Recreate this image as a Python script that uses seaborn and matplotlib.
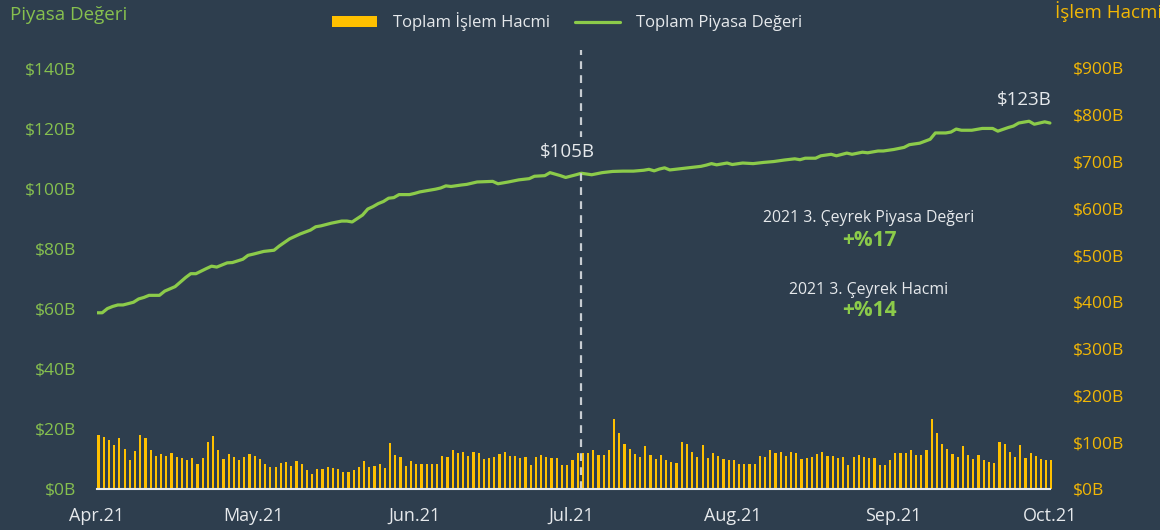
import numpy as np
import pandas as pd
import matplotlib
matplotlib.use("Agg")
import matplotlib.pyplot as plt
import seaborn as sns
from matplotlib.patches import Patch
from matplotlib.lines import Line2D

# ---------------- data ----------------
month_labels = ["Apr.21", "May.21", "Jun.21", "Jul.21", "Aug.21", "Sep.21", "Oct.21"]
month_start_day = [0, 30, 61, 91, 122, 153, 183]  # day offset from 2021-04-01

# daily total trading volume ($B), Apr 1 .. Oct 1
volume = [
    115, 112, 104, 95, 110, 86, 63, 82, 115, 108, 84, 71, 74, 71, 78, 69, 67, 63, 67, 53,
    67, 101, 114, 83, 65, 74, 69, 61, 68, 75,
    71, 64, 53, 46, 46, 56, 57, 50, 59, 53, 40, 32, 42, 42, 47, 44, 43, 37, 36, 40,
    46, 60, 46, 49, 54, 44, 99, 72, 68, 49, 60,
    53, 54, 54, 54, 53, 71, 69, 83, 77, 79, 71, 79, 78, 64, 67, 68, 75, 79, 71, 71,
    67, 68, 52, 68, 72, 69, 67, 67, 52, 52,
    61, 76, 78, 77, 84, 72, 72, 83, 149, 119, 96, 86, 74, 68, 92, 72, 64, 72, 63, 57,
    56, 101, 96, 79, 68, 93, 67, 78, 71, 64, 63,
    63, 54, 54, 54, 53, 71, 69, 83, 77, 79, 71, 79, 78, 64, 67, 68, 75, 79, 71, 71,
    67, 68, 52, 68, 72, 69, 67, 67, 52, 52, 61,
    77, 78, 77, 84, 72, 72, 83, 149, 119, 96, 86, 74, 68, 92, 72, 64, 72, 63, 57, 56,
    101, 96, 79, 68, 93, 67, 78, 71, 64, 63,
    63,
]

# total market value ($B), read at day offsets
mv_day = [0, 1, 2, 3, 4, 5, 7, 8, 9, 10, 12, 13, 15, 17, 18, 19, 21, 22, 23, 25, 26, 28, 29, 30,
          32, 34, 35, 37, 39, 41, 42, 43, 45, 47, 48, 49, 51, 52, 53, 54, 55, 56, 57, 58, 60,
          61, 62, 63, 65, 66, 67, 68, 70, 71, 73, 76, 77, 79, 81, 83, 84, 86, 87, 89, 90, 92,
          93, 95, 97, 99, 101, 103, 105, 106, 107, 108, 109, 110, 112, 114, 116, 117, 118, 119,
          121, 122, 124, 126, 128, 130, 132, 134, 135, 136, 138, 139, 141, 142, 144, 145, 147,
          148, 150, 151, 153, 155, 156, 158, 160, 161, 163, 164, 165, 166, 168, 170, 172, 173,
          175, 176, 177, 179, 180, 182, 183]
mv_value = [58.6, 58.6, 60.0, 60.7, 61.2, 61.2, 62.1, 63.2, 63.7, 64.4, 64.4, 65.8, 67.3, 70.3,
            71.6, 71.6, 73.3, 74.1, 73.8, 75.2, 75.3, 76.4, 77.7, 78.1, 79.0, 79.4, 80.8, 83.2,
            84.8, 86.1, 87.2, 87.5, 88.4, 89.1, 89.1, 88.8, 91.1, 93.1, 93.9, 94.9, 95.6, 96.7,
            96.9, 97.9, 97.9, 98.3, 98.8, 99.1, 99.7, 100.1, 100.8, 100.6, 101.1, 101.3, 102.1,
            102.3, 101.5, 102.1, 102.8, 103.2, 104.0, 104.2, 105.2, 104.2, 103.6, 104.5, 105.0,
            104.5, 105.2, 105.6, 105.7, 105.7, 106.0, 106.3, 105.8, 106.4, 106.8, 106.1, 106.5,
            106.9, 107.3, 107.7, 108.2, 107.8, 108.4, 107.9, 108.4, 108.2, 108.6, 108.9, 109.4,
            109.8, 109.5, 110.0, 110.0, 110.8, 111.3, 110.8, 111.7, 111.3, 112.0, 111.8, 112.4,
            112.4, 112.9, 113.6, 114.5, 115.0, 116.3, 118.4, 118.4, 118.7, 119.7, 119.3, 119.3,
            119.9, 119.9, 119.0, 120.2, 120.7, 121.7, 122.3, 121.3, 122.1, 121.7]

left_ticks = [0, 20, 40, 60, 80, 100, 120, 140]
right_ticks = [0, 100, 200, 300, 400, 500, 600, 700, 800, 900]

# ---------------- style ----------------
BG = "#2E3E4E"
GREEN_LINE = "#8CCB4A"
GREEN_TXT = "#86C04E"
YELLOW = "#FFC000"
YELLOW_TXT = "#F2B705"
WHITE = "#E6E9EC"

sns.set_style("dark")
plt.rcParams["font.family"] = ["Open Sans", "DejaVu Sans"]

fig = plt.figure(figsize=(11.6, 5.3), dpi=100, facecolor=BG)
W, H = 1160, 530
x0, x1 = 97, 1052
ybot, ytop = 489, 50
ax = fig.add_axes([x0 / W, 1 - ybot / H, (x1 - x0) / W, (ybot - ytop) / H])
ax2 = ax.twinx()

df_bar = pd.DataFrame({"day": np.arange(len(volume)) + 0.3, "vol": volume})
sns.barplot(data=df_bar, x="day", y="vol", native_scale=True, width=0.42,
            color=YELLOW, saturation=1, edgecolor="none", ax=ax2)

df_line = pd.DataFrame({"day": mv_day, "mv": mv_value})
sns.lineplot(data=df_line, x="day", y="mv", color=GREEN_LINE, linewidth=2.3, ax=ax)

# stacking: bars axis below line axis
ax2.set_zorder(2)
ax2.patch.set_facecolor(BG)
ax2.patch.set_visible(True)
ax.set_zorder(3)
ax.patch.set_visible(False)

xmax = 183.4
ax.set_xlim(0, xmax)
ax2.set_xlim(0, xmax)
scale_l = (ybot - 68) / 140.0
ax.set_ylim(0, (ybot - ytop) / scale_l)
scale_r = (ybot - 68) / 900.0
ax2.set_ylim(0, (ybot - ytop) / scale_r)

ax.set_yticks(left_ticks)
ax.set_yticklabels([f"${v}B" for v in left_ticks])
ax2.set_yticks(right_ticks)
ax2.set_yticklabels([f"${v}B" for v in right_ticks])
ax.tick_params(axis="y", length=0, pad=15, labelsize=12.5, labelcolor=GREEN_TXT)
ax2.tick_params(axis="y", length=0, pad=15, labelsize=12.5, labelcolor=YELLOW_TXT)

ax.set_xticks(month_start_day)
ax.set_xticklabels(month_labels)
ax.tick_params(axis="x", length=5, width=1.5, color=WHITE, pad=8, labelsize=13, labelcolor=WHITE)
ax2.tick_params(axis="x", length=0)

for a in (ax, ax2):
    for s in a.spines.values():
        s.set_visible(False)
    a.set_xlabel("")
    a.set_ylabel("")
    a.grid(False)
ax.spines["bottom"].set_visible(True)
ax.spines["bottom"].set_color(WHITE)
ax.spines["bottom"].set_linewidth(1.5)
ax.spines["bottom"].set_bounds(0, 183)

# dashed marker
ax.axvline(93, color="#C8CDD2", linestyle=(0, (3.5, 2.8)), linewidth=1.6, zorder=2)

# annotations
fig.text(567 / W, 1 - 152 / H, "$105B", ha="center", va="center", fontsize=13.5, color=WHITE,
         zorder=10, bbox=dict(facecolor=BG, edgecolor="none", pad=4))
fig.text(1024 / W, 1 - 100 / H, "$123B", ha="center", va="center", fontsize=13.5, color=WHITE)
fig.text(869 / W, 1 - 218 / H, "2021 3. Çeyrek Piyasa Değeri", ha="center", va="center",
         fontsize=11.4, color=WHITE)
fig.text(869 / W, 1 - 240 / H, "+%17", ha="center", va="center", fontsize=15,
         fontweight="bold", color=GREEN_LINE)
fig.text(869 / W, 1 - 290 / H, "2021 3. Çeyrek Hacmi", ha="center", va="center",
         fontsize=11.4, color=WHITE)
fig.text(869 / W, 1 - 311 / H, "+%14", ha="center", va="center", fontsize=15,
         fontweight="bold", color=GREEN_LINE)

# axis titles
fig.text(10 / W, 1 - 15 / H, "Piyasa Değeri", ha="left", va="center", fontsize=13.5, color=GREEN_TXT)
fig.text(1055 / W, 1 - 12 / H, "İşlem Hacmi", ha="left", va="center", fontsize=13.5, color=YELLOW_TXT)

# legend
handles = [Patch(facecolor=YELLOW, edgecolor="none"),
           Line2D([0], [0], color=GREEN_LINE, linewidth=2.3)]
leg = fig.legend(handles, ["Toplam İşlem Hacmi", "Toplam Piyasa Değeri"], loc="center",
                 bbox_to_anchor=(567 / W, 1 - 22 / H), ncol=2, frameon=False, fontsize=12,
                 handlelength=2.7, handleheight=0.7, handletextpad=0.95, columnspacing=1.55,
                 labelcolor=WHITE)

fig.savefig("out.png", dpi=100, facecolor=BG)
